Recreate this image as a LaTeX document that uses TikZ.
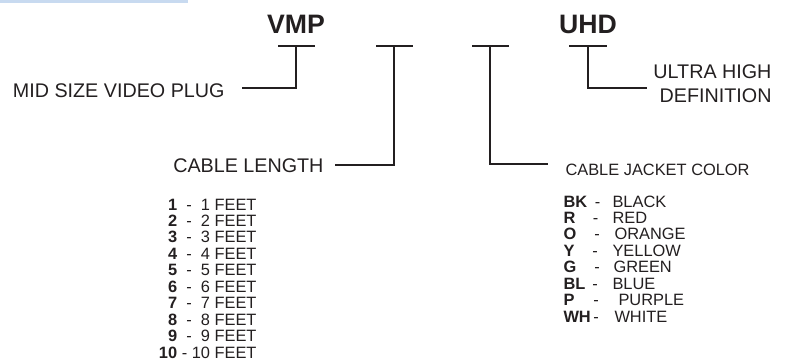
\documentclass[tikz,border=0pt]{standalone}
\usepackage{fontspec}
\setmainfont{Liberation Sans}
\definecolor{ink}{HTML}{231F20}
\definecolor{barblue}{RGB}{200,218,240}

\tikzset{every picture/.style={line width=0.75pt}}
\tikzset{
  brk/.style={draw=ink, line width=2.2pt},
  title/.style={text=ink, inner sep=0pt, font=\fontsize{20}{22}\selectfont\bfseries},
  lbl/.style={text=ink, inner sep=0pt, font=\fontsize{14.8}{16}\selectfont},
  small/.style={text=ink, inner sep=0pt, font=\fontsize{12.3}{14}\selectfont}
}

\begin{document}
\begin{tikzpicture}[x=0.75pt,y=0.75pt,yscale=-1,xscale=1]
\useasboundingbox (0,0) rectangle (786,362);

%Shape: Rectangle [top band]
\fill [barblue] (0,0) rectangle (188,2.5);

% bracket points
\coordinate (vmpT) at (296,46);
\coordinate (vmpF) at (242,88);
\coordinate (lenT) at (394,46);
\coordinate (lenF) at (335,165);
\coordinate (colT) at (490,46);
\coordinate (colF) at (548,164);
\coordinate (uhdT) at (588,46);
\coordinate (uhdF) at (647,88);

%Straight Lines [VMP]
\draw [brk] ([xshift=-13.5pt]vmpT) -- ([xshift=14pt]vmpT);
\draw [brk] (vmpT) |- (vmpF);
%Straight Lines [length]
\draw [brk] ([xshift=-13.5pt]lenT) -- ([xshift=14pt]lenT);
\draw [brk] (lenT) |- (lenF);
%Straight Lines [jacket color]
\draw [brk] ([xshift=-13.5pt]colT) -- ([xshift=14pt]colT);
\draw [brk] (colT) |- (colF);
%Straight Lines [UHD]
\draw [brk] ([xshift=-14pt]uhdT) -- ([xshift=14pt]uhdT);
\draw [brk] (uhdT) |- (uhdF);

% Text Node
\draw (296,33) node (vmp) [anchor=base, title] {VMP};
% Text Node
\draw (588,33) node (uhd) [anchor=base, title] {UHD};
% Text Node
\draw (225,97) node (mid) [anchor=base east, lbl] {MID SIZE VIDEO PLUG};
% Text Node
\draw (324,172) node (len) [anchor=base east, lbl] {CABLE LENGTH};
% Text Node
\draw (772,78) node (ultra) [anchor=base east, lbl] {ULTRA HIGH};
% Text Node
\draw (772,102) node (defn) [anchor=base east, lbl] {DEFINITION};
% Text Node
\draw (565,175) node (col) [anchor=base west, small] {CABLE JACKET COLOR};

% Text Node -- lengths
\draw (257,210) node (len1) [anchor=base east, small] {\textbf{1}\ \ -\ \ 1 FEET};
\draw (257,226.4) node (len2) [anchor=base east, small] {\textbf{2}\ \ -\ \ 2 FEET};
\draw (257,242.9) node (len3) [anchor=base east, small] {\textbf{3}\ \ -\ \ 3 FEET};
\draw (257,259.3) node (len4) [anchor=base east, small] {\textbf{4}\ \ -\ \ 4 FEET};
\draw (257,275.8) node (len5) [anchor=base east, small] {\textbf{5}\ \ -\ \ 5 FEET};
\draw (257,292.2) node (len6) [anchor=base east, small] {\textbf{6}\ \ -\ \ 6 FEET};
\draw (257,308.6) node (len7) [anchor=base east, small] {\textbf{7}\ \ -\ \ 7 FEET};
\draw (257,325.1) node (len8) [anchor=base east, small] {\textbf{8}\ \ -\ \ 8 FEET};
\draw (257,341.5) node (len9) [anchor=base east, small] {\textbf{9}\ \ -\ \ 9 FEET};
\draw (257,358) node (len10) [anchor=base east, small] {\textbf{10} - 10 FEET};

% Text Node -- colour codes
\draw (563,207) node (bk) [anchor=base west, small] {\textbf{BK}};
\draw (597.5,207) node (bkd) [anchor=base, small] {-};
\draw (612,207) node (bkn) [anchor=base west, small] {BLACK};
\draw (563,223.4) node (r) [anchor=base west, small] {\textbf{R}};
\draw (595.5,223.4) node (rd) [anchor=base, small] {-};
\draw (612,223.4) node (rn) [anchor=base west, small] {RED};
\draw (563,239.9) node (o) [anchor=base west, small] {\textbf{O}};
\draw (597,239.9) node (od) [anchor=base, small] {-};
\draw (614,239.9) node (on) [anchor=base west, small] {ORANGE};
\draw (563,256.3) node (y) [anchor=base west, small] {\textbf{Y}};
\draw (595,256.3) node (yd) [anchor=base, small] {-};
\draw (612,256.3) node (yn) [anchor=base west, small] {YELLOW};
\draw (563,272.7) node (g) [anchor=base west, small] {\textbf{G}};
\draw (597,272.7) node (gd) [anchor=base, small] {-};
\draw (613,272.7) node (gn) [anchor=base west, small] {GREEN};
\draw (563,289.1) node (bl) [anchor=base west, small] {\textbf{BL}};
\draw (595,289.1) node (bld) [anchor=base, small] {-};
\draw (612,289.1) node (bln) [anchor=base west, small] {BLUE};
\draw (563,305.6) node (p) [anchor=base west, small] {\textbf{P}};
\draw (596,305.6) node (pd) [anchor=base, small] {-};
\draw (618,305.6) node (pn) [anchor=base west, small] {PURPLE};
\draw (563,322) node (wh) [anchor=base west, small] {\textbf{WH}};
\draw (596,322) node (whd) [anchor=base, small] {-};
\draw (614,322) node (whn) [anchor=base west, small] {WHITE};

\end{tikzpicture}
\end{document}
